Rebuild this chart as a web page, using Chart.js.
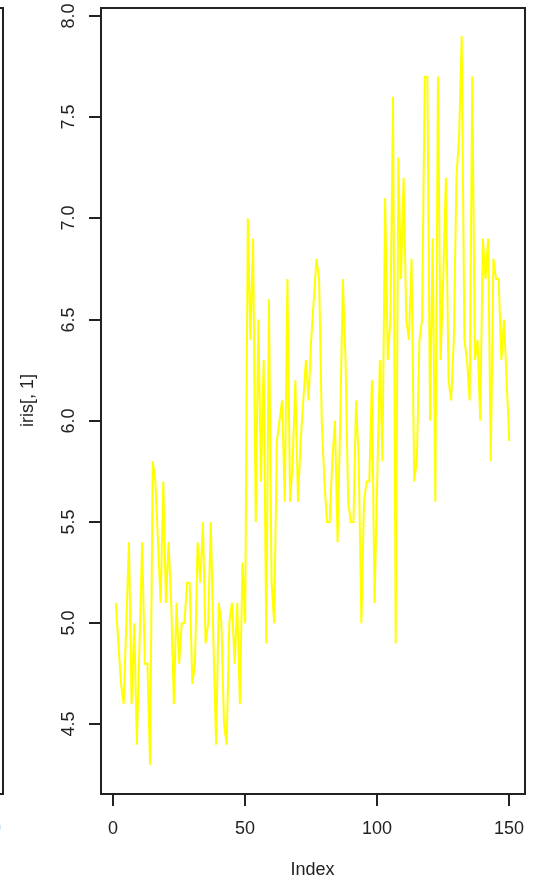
<!DOCTYPE html>
<html>
<head>
<meta charset="utf-8">
<script src="https://cdn.jsdelivr.net/npm/chart.js@4/dist/chart.umd.min.js"></script>
<style>
html,body{margin:0;padding:0;background:#fff;}
#wrap{width:537px;height:880px;position:relative;}
</style>
</head>
<body>
<div id="wrap"><canvas id="c" width="537" height="880"></canvas></div>
<script>
// iris[,1] (Sepal.Length), plotted against Index
const sepalLength = [
5.1,4.9,4.7,4.6,5.0,5.4,4.6,5.0,4.4,4.9,5.4,4.8,4.8,4.3,5.8,5.7,5.4,5.1,5.7,5.1,
5.4,5.1,4.6,5.1,4.8,5.0,5.0,5.2,5.2,4.7,4.8,5.4,5.2,5.5,4.9,5.0,5.5,4.9,4.4,5.1,
5.0,4.5,4.4,5.0,5.1,4.8,5.1,4.6,5.3,5.0,
7.0,6.4,6.9,5.5,6.5,5.7,6.3,4.9,6.6,5.2,5.0,5.9,6.0,6.1,5.6,6.7,5.6,5.8,6.2,5.6,
5.9,6.1,6.3,6.1,6.4,6.6,6.8,6.7,6.0,5.7,5.5,5.5,5.8,6.0,5.4,6.0,6.7,6.3,5.6,5.5,
5.5,6.1,5.8,5.0,5.6,5.7,5.7,6.2,5.1,5.7,
6.3,5.8,7.1,6.3,6.5,7.6,4.9,7.3,6.7,7.2,6.5,6.4,6.8,5.7,5.8,6.4,6.5,7.7,7.7,6.0,
6.9,5.6,7.7,6.3,6.7,7.2,6.2,6.1,6.4,7.2,7.4,7.9,6.4,6.3,6.1,7.7,6.3,6.4,6.0,6.9,
6.7,6.9,5.8,6.8,6.7,6.7,6.3,6.5,6.2,5.9
];
const indexValues = sepalLength.map((_, i) => i + 1);
const xTicks = [0, 50, 100, 150];
const yTicks = [4.5, 5.0, 5.5, 6.0, 6.5, 7.0, 7.5, 8.0];
const xTitle = "Index";
const yTitle = "iris[, 1]";

const points = indexValues.map((x, i) => ({x: x, y: sepalLength[i]}));
// R default 4% axis extension
const xr = [Math.min(...indexValues), Math.max(...indexValues)];
const yr = [Math.min(...sepalLength), Math.max(...sepalLength)];
const xpad = (xr[1]-xr[0])*0.04, ypad = (yr[1]-yr[0])*0.04;

const FONT = '18px "Liberation Sans", Arial, sans-serif';
const INK = '#222';

const rAxes = {
  id: 'rAxes',
  afterDraw(chart) {
    const ctx = chart.ctx, a = chart.chartArea;
    const xs = chart.scales.x, ys = chart.scales.y;
    ctx.save();
    ctx.strokeStyle = INK; ctx.lineWidth = 2; ctx.fillStyle = INK;
    ctx.strokeRect(a.left + 1, a.top + 1, a.right - a.left - 1, a.bottom - a.top - 1);
    ctx.font = FONT;
    ctx.textAlign = 'center'; ctx.textBaseline = 'middle';
    xTicks.forEach(v => {
      const px = Math.round(xs.getPixelForValue(v));
      ctx.beginPath(); ctx.moveTo(px, a.bottom); ctx.lineTo(px, a.bottom + 12); ctx.stroke();
      ctx.fillText(String(v), px, 829);
    });
    yTicks.forEach(v => {
      const py = Math.round(ys.getPixelForValue(v));
      ctx.beginPath(); ctx.moveTo(a.left, py); ctx.lineTo(a.left - 11, py); ctx.stroke();
      ctx.save();
      ctx.translate(69, py); ctx.rotate(-Math.PI/2);
      ctx.fillText(v.toFixed(1), 0, 0);
      ctx.restore();
    });
    ctx.fillText(xTitle, (a.left + a.right)/2, 870);
    ctx.save();
    ctx.translate(28, (a.top + a.bottom)/2); ctx.rotate(-Math.PI/2);
    ctx.fillText(yTitle, 0, 0);
    ctx.restore();
    // neighbouring panel edge (cropped)
    ctx.beginPath();
    ctx.moveTo(0, a.top + 1); ctx.lineTo(3, a.top + 1); ctx.lineTo(3, a.bottom); ctx.lineTo(0, a.bottom);
    ctx.stroke();
    ctx.fillStyle = '#4aa3e0';
    ctx.fillText('0', -4, 829);
    ctx.restore();
  }
};

new Chart(document.getElementById('c'), {
  type: 'line',
  data: {
    datasets: [{
      data: points,
      borderColor: '#ffff00',
      borderWidth: 2,
      pointRadius: 0,
      tension: 0,
      borderJoinStyle: 'miter',
      fill: false
    }]
  },
  options: {
    responsive: false,
    animation: false,
    devicePixelRatio: 1,
    layout: {padding: {left: 100, right: 12, top: 7, bottom: 86}},
    plugins: {legend: {display: false}, tooltip: {enabled: false}},
    scales: {
      x: {type: 'linear', display: false, min: xr[0]-xpad, max: xr[1]+xpad},
      y: {type: 'linear', display: false, min: yr[0]-ypad, max: yr[1]+ypad}
    }
  },
  plugins: [rAxes]
});
</script>
</body>
</html>
